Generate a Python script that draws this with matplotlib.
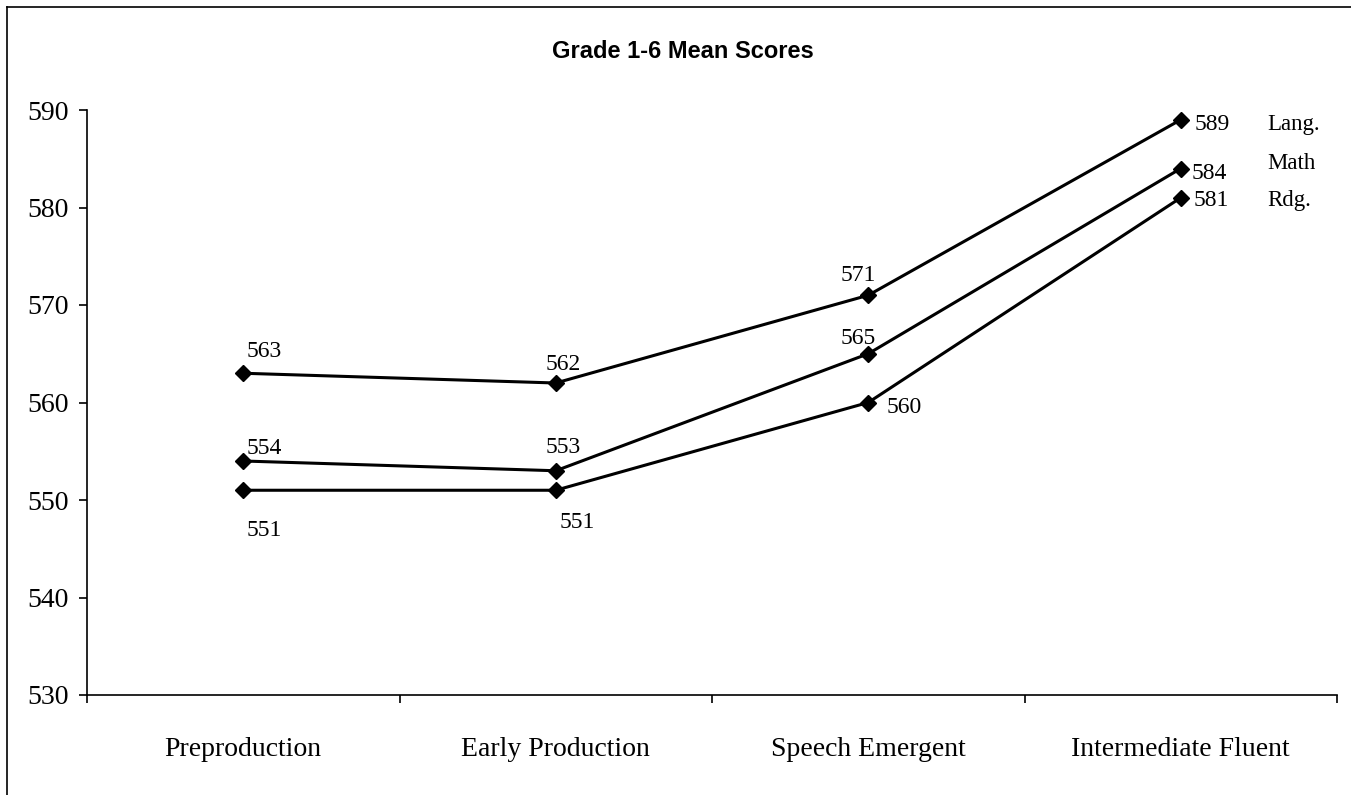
import matplotlib.pyplot as plt
from matplotlib.lines import Line2D

# category axis and the three subject series
stages = ['Preproduction', 'Early Production', 'Speech Emergent', 'Intermediate Fluent']
lang = [563, 562, 571, 589]
math = [554, 553, 565, 584]
rdg = [551, 551, 560, 581]
series_names = ['Lang.', 'Math', 'Rdg.']

# where each value label sits relative to its marker, in pixels
lang_off = [(3, 22), (-10, 19), (-28, 20), (14, -5)]
math_off = [(3, 12), (-10, 23), (-28, 15), (11, -5)]
rdg_off = [(3, -40), (4, -32), (18, -5), (13, -3)]

serif = 'Liberation Serif'

fig = plt.figure(figsize=(13.51, 7.95), dpi=100)
ax = fig.add_axes([87/1351, 1 - 695/795, 1250/1351, 585/795])

x = list(range(len(stages)))
for vals, offs in [(lang, lang_off), (math, math_off), (rdg, rdg_off)]:
    ax.plot(x, vals, color='black', lw=2.2, marker='D', ms=8, zorder=3)
    for xi, v, o in zip(x, vals, offs):
        ax.annotate(str(v), (xi, v), xytext=o, textcoords='offset pixels',
                    ha='left', va='center', fontsize=17, family=serif)

# series names to the right of the last points
last_vals = [lang[-1], math[-1], rdg[-1]]
name_dy = [-5, 5, -3]
for name, v, dy in zip(series_names, last_vals, name_dy):
    ax.annotate(name, (x[-1], v), xytext=(87, dy), textcoords='offset pixels',
                ha='left', va='center', fontsize=16.5, family=serif)

ax.set_xlim(-0.5, len(stages) - 0.5)
ax.set_ylim(530, 590)
ax.set_yticks(range(530, 591, 10))
ax.set_xticks([i - 0.5 for i in range(len(stages) + 1)])
ax.set_xticklabels([])
ax.set_xticks(x, minor=True)
ax.set_xticklabels(stages, minor=True, fontsize=20, family=serif)
ax.tick_params(axis='x', which='major', direction='out', length=6, width=1.2)
ax.tick_params(axis='x', which='minor', length=0, pad=30)
ax.tick_params(axis='y', direction='out', length=6, width=1.2, pad=7)
for lab in ax.get_yticklabels():
    lab.set_fontsize(20)
    lab.set_family(serif)

ax.spines['top'].set_visible(False)
ax.spines['right'].set_visible(False)
ax.spines['left'].set_linewidth(1.2)
ax.spines['bottom'].set_linewidth(1.2)

fig.text(683/1351, 1 - 52/795, 'Grade 1-6 Mean Scores', ha='center', va='center',
         fontsize=17, fontweight='bold', family='Liberation Sans')

# outer chart frame (left and top edges)
fig.add_artist(Line2D([7/1351, 7/1351], [0, 1 - 7/795], color='black', lw=1.2))
fig.add_artist(Line2D([7/1351, 1], [1 - 7/795, 1 - 7/795], color='black', lw=1.2))

fig.savefig('out.png', dpi=100)
